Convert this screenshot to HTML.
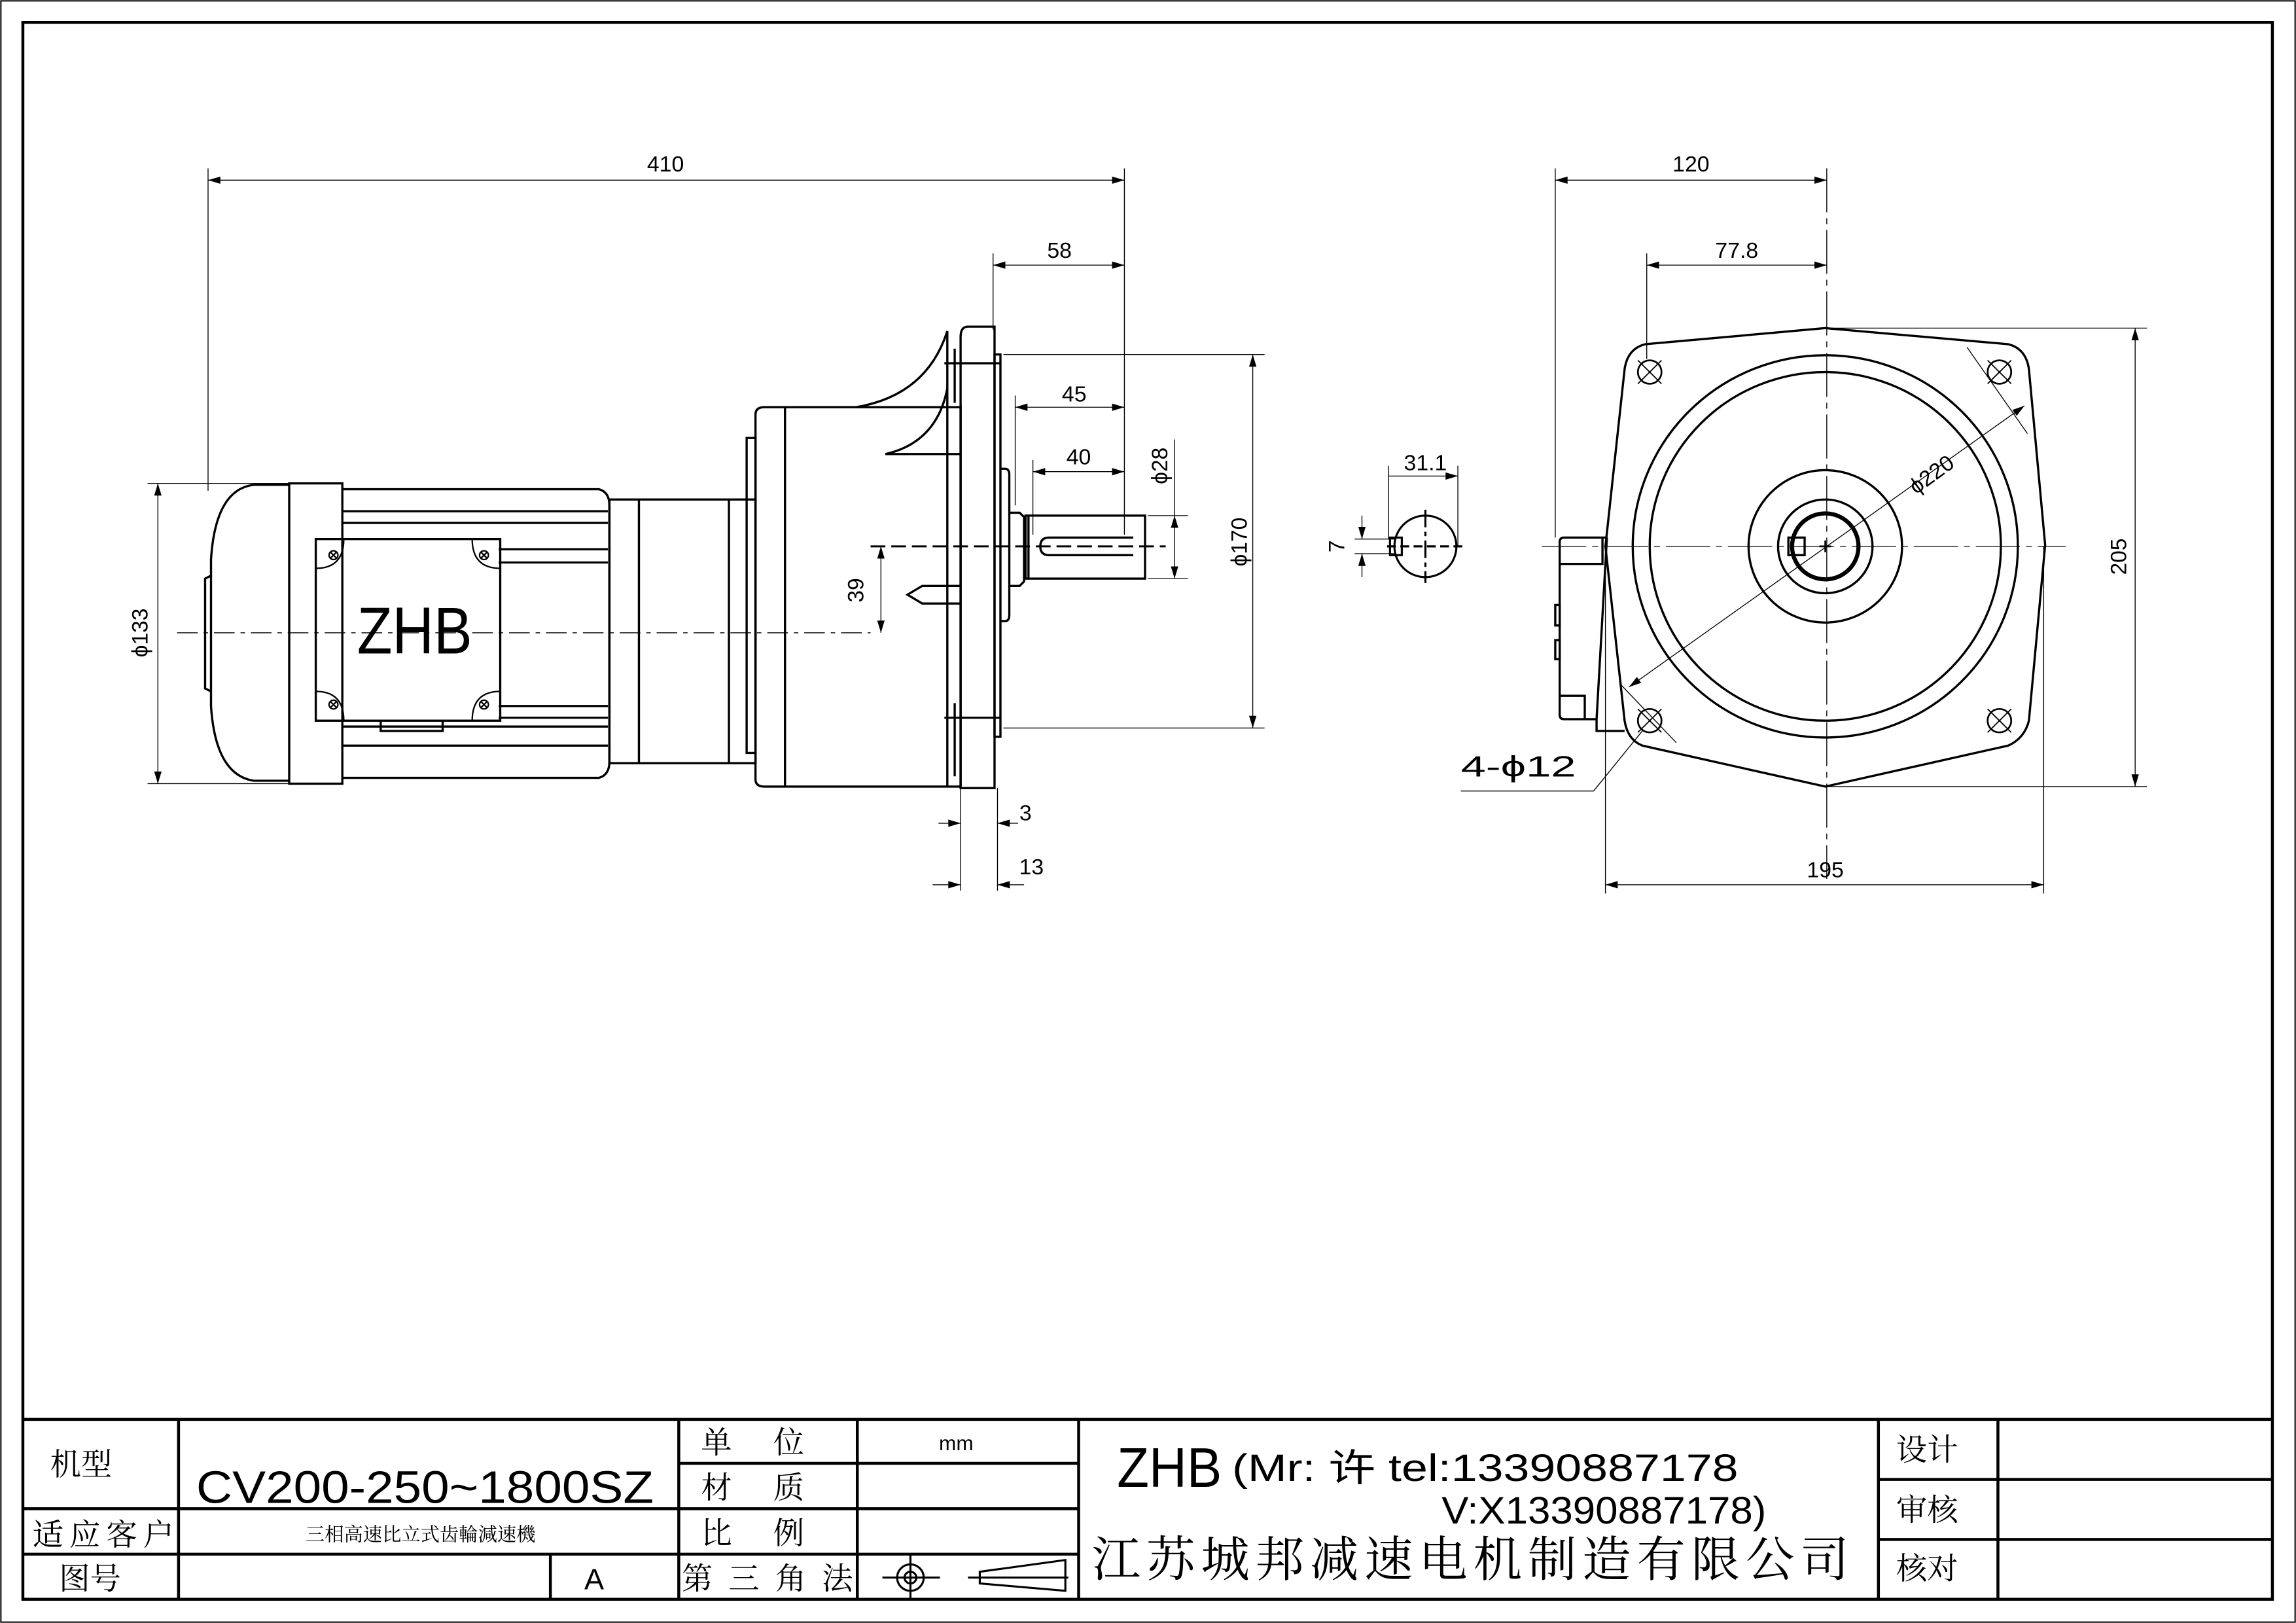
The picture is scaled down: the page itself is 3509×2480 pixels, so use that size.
<!DOCTYPE html>
<html><head><meta charset="utf-8"><style>
html,body{margin:0;padding:0;background:#fff;}
svg{display:block;}
text{font-family:"Liberation Sans","Noto Sans CJK SC",sans-serif;fill:#000;}
.cj{font-family:"Noto Serif CJK SC","Noto Sans CJK SC",serif;}
</style></head><body>
<svg width="3509" height="2480" viewBox="0 0 1556 1108" preserveAspectRatio="none" xmlns="http://www.w3.org/2000/svg">
<defs>
<marker id="a" viewBox="0 0 10 6" refX="10" refY="3" markerWidth="10" markerHeight="5" markerUnits="userSpaceOnUse" orient="auto-start-reverse"><path d="M0,0 L10,3 L0,6 z" fill="#000"/></marker>
</defs>
<rect x="0" y="0" width="1556" height="1108" fill="#fff"/>
<rect x="0.6" y="0.6" width="1554.8" height="1106.8" fill="none" stroke="#000" stroke-width="0.9"/>
<rect x="15.5" y="15.3" width="1524.5" height="1076.5" fill="none" stroke="#000" stroke-width="2"/>

<g stroke="#000" stroke-width="2" fill="none">
<line x1="15.5" y1="969" x2="1540" y2="969"/>
<line x1="460" y1="999" x2="731" y2="999"/>
<line x1="15.5" y1="1030" x2="731" y2="1030"/>
<line x1="15.5" y1="1061" x2="731" y2="1061"/>
<line x1="1273" y1="1010" x2="1540" y2="1010"/>
<line x1="1273" y1="1051" x2="1540" y2="1051"/>
<line x1="121" y1="969" x2="121" y2="1092"/>
<line x1="373" y1="1061" x2="373" y2="1092"/>
<line x1="460" y1="969" x2="460" y2="1092"/>
<line x1="581" y1="969" x2="581" y2="1092"/>
<line x1="731" y1="969" x2="731" y2="1092"/>
<line x1="1273" y1="969" x2="1273" y2="1092"/>
<line x1="1354" y1="969" x2="1354" y2="1092"/>
</g>
<g class="cj">
<text x="34" y="1007" font-size="21" class="cj">机型</text>
<text x="22" y="1055" font-size="21" class="cj" textLength="96">适应客户</text>
<text x="40" y="1085" font-size="21" class="cj">图号</text>
<text x="475" y="992" font-size="21" class="cj" textLength="70">单　位</text>
<text x="475" y="1023" font-size="21" class="cj" textLength="70">材　质</text>
<text x="475" y="1054" font-size="21" class="cj" textLength="70">比　例</text>
<text x="462" y="1085" font-size="21" class="cj" textLength="116">第三角法</text>
<text x="285" y="1052" font-size="13" text-anchor="middle" class="cj">三相高速比立式齿輪減速機</text>
<text x="1285" y="997" font-size="21" class="cj">设计</text>
<text x="1285" y="1038" font-size="21" class="cj">审核</text>
<text x="1285" y="1078" font-size="21" class="cj">核对</text>
<text x="740" y="1076" font-size="33" class="cj" textLength="513">江苏城邦减速电机制造有限公司</text>
</g>
<text x="133" y="1026" font-size="31" textLength="310" lengthAdjust="spacingAndGlyphs">CV200-250~1800SZ</text>
<text x="396" y="1085" font-size="20">A</text>
<text x="648" y="990" font-size="14" text-anchor="middle">mm</text>
<text x="757" y="1015" font-size="38" textLength="71" lengthAdjust="spacingAndGlyphs">ZHB</text>
<text x="835" y="1011" font-size="26" textLength="343" lengthAdjust="spacingAndGlyphs" font-family="Liberation Mono, Noto Sans CJK SC, monospace">(Mr: 许 tel:13390887178</text>
<text x="977" y="1040" font-size="26" textLength="220" lengthAdjust="spacingAndGlyphs" font-family="Liberation Mono, monospace">V:X13390887178)</text>
<g stroke="#000" fill="none" stroke-width="1.4">
<circle cx="617" cy="1077" r="9"/><circle cx="617" cy="1077" r="4"/>
<line x1="598" y1="1077" x2="637" y2="1077"/><line x1="617" y1="1062" x2="617" y2="1092"/>
<path d="M664,1073 L722,1065 L722,1086 L664,1081 Z"/>
<line x1="656" y1="1077" x2="724" y2="1077"/>
</g>

<g stroke="#000" fill="none" stroke-width="0.6">
<line x1="141" y1="115" x2="141" y2="335"/>
<line x1="762" y1="115" x2="762" y2="365"/>
<line x1="673" y1="173" x2="673" y2="225"/>
<line x1="688" y1="270" x2="688" y2="345"/>
<line x1="700" y1="314" x2="700" y2="365"/>
<line x1="680" y1="242" x2="857" y2="242"/>
<line x1="680" y1="497" x2="857" y2="497"/>
<line x1="778" y1="352" x2="805" y2="352"/>
<line x1="778" y1="395" x2="805" y2="395"/>
<line x1="100" y1="330" x2="196" y2="330"/>
<line x1="100" y1="535" x2="196" y2="535"/>
<line x1="651" y1="538" x2="651" y2="608"/>
<line x1="676" y1="538" x2="676" y2="608"/>
<line x1="141" y1="123" x2="762" y2="123" marker-start="url(#a)" marker-end="url(#a)"/>
<line x1="673" y1="181" x2="762" y2="181" marker-start="url(#a)" marker-end="url(#a)"/>
<line x1="688" y1="278" x2="762" y2="278" marker-start="url(#a)" marker-end="url(#a)"/>
<line x1="700" y1="322" x2="762" y2="322" marker-start="url(#a)" marker-end="url(#a)"/>
<line x1="849" y1="242" x2="849" y2="497" marker-start="url(#a)" marker-end="url(#a)"/>
<line x1="796" y1="352" x2="796" y2="395" marker-start="url(#a)" marker-end="url(#a)"/>
<line x1="796" y1="300" x2="796" y2="352"/>
<line x1="107" y1="330" x2="107" y2="535" marker-start="url(#a)" marker-end="url(#a)"/>
<line x1="597" y1="373" x2="597" y2="432" marker-start="url(#a)" marker-end="url(#a)"/>
<line x1="636" y1="562" x2="651" y2="562" marker-end="url(#a)"/>
<line x1="690" y1="562" x2="676" y2="562" marker-end="url(#a)"/>
<line x1="632" y1="604" x2="651" y2="604" marker-end="url(#a)"/>
<line x1="694" y1="604" x2="676" y2="604" marker-end="url(#a)"/>
<line x1="120" y1="432" x2="590" y2="432" stroke-dasharray="14,4,3,4"/>
<line x1="590" y1="373" x2="790" y2="373" stroke-dasharray="10,4" stroke-width="1.3"/>
</g>
<g font-size="15">
<text x="451" y="117" text-anchor="middle">410</text>
<text x="718" y="176" text-anchor="middle">58</text>
<text x="728" y="274" text-anchor="middle">45</text>
<text x="731" y="317" text-anchor="middle">40</text>
<text x="695" y="560" text-anchor="middle">3</text>
<text x="699" y="597" text-anchor="middle">13</text>
<text transform="translate(845,370) rotate(-90)" text-anchor="middle">ϕ170</text>
<text transform="translate(791,318) rotate(-90)" text-anchor="middle">ϕ28</text>
<text transform="translate(100,432) rotate(-90)" text-anchor="middle">ϕ133</text>
<text transform="translate(585,403) rotate(-90)" text-anchor="middle">39</text>
</g>

<g stroke="#000" fill="none" stroke-width="1.5">
<path d="M196,331 L172,331 Q146,334 143,382 L143,482 Q146,529 172,533 L196,533"/>
<path d="M143,393 L139,395 L139,470 L143,472"/>
<rect x="196" y="330" width="36" height="205"/>
<path d="M232,334 L406,334 Q413,336 413,345 L413,520 Q413,529 406,531 L232,531"/>
<line x1="232" y1="349" x2="412" y2="349"/>
<line x1="232" y1="357" x2="412" y2="357"/>
<line x1="338" y1="384" x2="412" y2="384"/>
<line x1="338" y1="482" x2="412" y2="482"/>
<line x1="232" y1="496" x2="412" y2="496"/>
<line x1="232" y1="509" x2="412" y2="509"/>
<line x1="338" y1="375" x2="412" y2="375"/>
<line x1="338" y1="490" x2="412" y2="490"/>
<rect x="214" y="368" width="125" height="124"/>
<path d="M258,492 L258,499 L300,499 L300,492"/>
<rect x="413" y="341" width="99" height="180"/>
<line x1="433" y1="341" x2="433" y2="521"/>
<line x1="494" y1="341" x2="494" y2="521"/>
<rect x="506" y="299" width="6" height="215"/>
<path d="M512,283 Q512,278 518,278 L651,278 L651,537 L518,537 Q512,537 512,532 Z"/>
<line x1="532" y1="278" x2="532" y2="537"/>
<path d="M580,278 Q628,270 642,226"/>
<path d="M600,310 Q635,302 642,265"/>
<line x1="600" y1="310" x2="651" y2="310"/>
<line x1="642" y1="226" x2="642" y2="537"/>
<path d="M656,223 L674,223 L674,538 L651,538 L651,230 Q651,223 656,223 Z"/>
<rect x="674" y="242" width="4" height="261"/>
<path d="M678,320 L681,320 Q684,320 684,324 L684,420 Q684,424 681,424 L678,424"/>
<line x1="647" y1="238" x2="647" y2="275"/>
<line x1="647" y1="480" x2="647" y2="530"/>
<line x1="640" y1="248" x2="678" y2="248"/>
<line x1="640" y1="490" x2="678" y2="490"/>
<path d="M684,350 L691,350 L694,353 L694,397 L691,400 L684,400"/>
<rect x="695" y="352" width="81" height="43"/>
<line x1="697" y1="352" x2="697" y2="395"/>
<path d="M768,367 L711,367 Q705,367 705,373 Q705,379 711,379 L768,379"/>
<path d="M651,400 L625,400 L615,406 L625,412 L651,412"/>
</g>
<g stroke="#000" fill="none" stroke-width="1">
<g transform="translate(226,379)"><circle r="3"/><path d="M-2,-2 L2,2 M-2,2 L2,-2"/></g>
<g transform="translate(328,379)"><circle r="3"/><path d="M-2,-2 L2,2 M-2,2 L2,-2"/></g>
<g transform="translate(226,481)"><circle r="3"/><path d="M-2,-2 L2,2 M-2,2 L2,-2"/></g>
<g transform="translate(328,481)"><circle r="3"/><path d="M-2,-2 L2,2 M-2,2 L2,-2"/></g>
<path d="M214,388 Q233,388 233,368 M339,388 Q320,388 320,368 M214,472 Q233,472 233,492 M339,472 Q320,472 320,492"/>
</g>
<text x="281" y="446" font-size="45" text-anchor="middle" textLength="78" lengthAdjust="spacingAndGlyphs">ZHB</text>

<g stroke="#000" fill="none" stroke-width="0.6">
<line x1="988" y1="318" x2="988" y2="373"/>
<line x1="941" y1="325" x2="988" y2="325" marker-end="url(#a)"/>
<line x1="941" y1="318" x2="941" y2="368"/>
<line x1="918" y1="368" x2="945" y2="368"/>
<line x1="918" y1="378" x2="945" y2="378"/>
<line x1="923" y1="352" x2="923" y2="368" marker-end="url(#a)"/>
<line x1="923" y1="394" x2="923" y2="378" marker-end="url(#a)"/>
</g>
<g stroke="#000" fill="none" stroke-width="1.4">
<circle cx="966" cy="373" r="21"/>
<rect x="942" y="367" width="8" height="12"/>
<line x1="940" y1="373" x2="994" y2="373" stroke-dasharray="6,3"/>
<line x1="966" y1="348" x2="966" y2="398" stroke-dasharray="12,3,3,3"/>
</g>
<text x="966" y="321" font-size="15" text-anchor="middle">31.1</text>
<text transform="translate(911,373) rotate(-90)" font-size="15" text-anchor="middle">7</text>

<g stroke="#000" fill="none" stroke-width="0.6">
<line x1="1054" y1="115" x2="1054" y2="367"/>
<line x1="1238" y1="115" x2="1238" y2="600" stroke-dasharray="30,4,4,4"/>
<line x1="1116" y1="173" x2="1116" y2="245"/>
<line x1="1045" y1="373" x2="1400" y2="373" stroke-dasharray="30,4,4,4"/>
<line x1="1054" y1="123" x2="1238" y2="123" marker-start="url(#a)" marker-end="url(#a)"/>
<line x1="1116" y1="181" x2="1238" y2="181" marker-start="url(#a)" marker-end="url(#a)"/>
<line x1="1238" y1="224" x2="1455" y2="224"/>
<line x1="1238" y1="537" x2="1455" y2="537"/>
<line x1="1447" y1="224" x2="1447" y2="537" marker-start="url(#a)" marker-end="url(#a)"/>
<line x1="1088" y1="373" x2="1088" y2="610"/>
<line x1="1385" y1="373" x2="1385" y2="610"/>
<line x1="1088" y1="604" x2="1385" y2="604" marker-start="url(#a)" marker-end="url(#a)"/>
<line x1="1104" y1="469" x2="1372" y2="277" marker-start="url(#a)" marker-end="url(#a)"/>
<line x1="1333" y1="237" x2="1374" y2="296"/>
<line x1="1099" y1="468" x2="1136" y2="507"/>
<path d="M1113,499 L1080,540 L990,540"/>
</g>
<g font-size="15">
<text x="1146" y="117" text-anchor="middle">120</text>
<text x="1177" y="176" text-anchor="middle">77.8</text>
<text x="1237" y="599" text-anchor="middle">195</text>
<text transform="translate(1441,380) rotate(-90)" text-anchor="middle">205</text>
<text transform="translate(1312,328) rotate(-36)" text-anchor="middle">ϕ220</text>
</g>
<text x="990" y="530" font-size="20" textLength="78" lengthAdjust="spacingAndGlyphs">4-ϕ12</text>
<g stroke="#000" fill="none" stroke-width="1.5">
<path d="M1237,224 L1361,235 Q1373,238 1375,252 L1386,372 L1375,492 Q1372,504 1361,509 L1237,537 L1113,509 Q1103,505 1101,492 L1088,373 L1101,252 Q1103,238 1115,235 Z"/>
<circle cx="1237" cy="373" r="130.5"/>
<circle cx="1237" cy="373" r="119"/>
<circle cx="1237" cy="373" r="52"/>
<circle cx="1237" cy="373" r="32"/>
<circle cx="1237" cy="373" r="22.5" stroke-width="2.8"/>
<rect x="1212" y="367" width="11" height="12"/>
<path d="M1089,367 L1060,367 Q1057,367 1057,370 L1057,488 Q1057,491 1060,491 L1082,491"/>
<path d="M1057,385 L1086,385 L1086,367"/>
<path d="M1057,475 L1074,475 L1074,491"/>
<path d="M1082,491 L1082,499 L1101,499"/>
<path d="M1089,367 L1082,491"/>
<rect x="1054" y="413" width="3" height="14"/>
<rect x="1054" y="437" width="3" height="13"/>
</g>
<g stroke="#000" fill="none" stroke-width="1.2">
<g transform="translate(1118,254)"><circle r="8"/><path d="M-8,-8 L8,8 M-8,8 L8,-8" stroke-width="0.8"/></g>
<g transform="translate(1355,254)"><circle r="8"/><path d="M-8,-8 L8,8 M-8,8 L8,-8" stroke-width="0.8"/></g>
<g transform="translate(1118,492)"><circle r="8"/><path d="M-8,-8 L8,8 M-8,8 L8,-8" stroke-width="0.8"/></g>
<g transform="translate(1355,492)"><circle r="8"/><path d="M-8,-8 L8,8 M-8,8 L8,-8" stroke-width="0.8"/></g>
<path d="M1233,373 L1241,373 M1237,369 L1237,377"/>
</g>
</svg>
</body></html>
